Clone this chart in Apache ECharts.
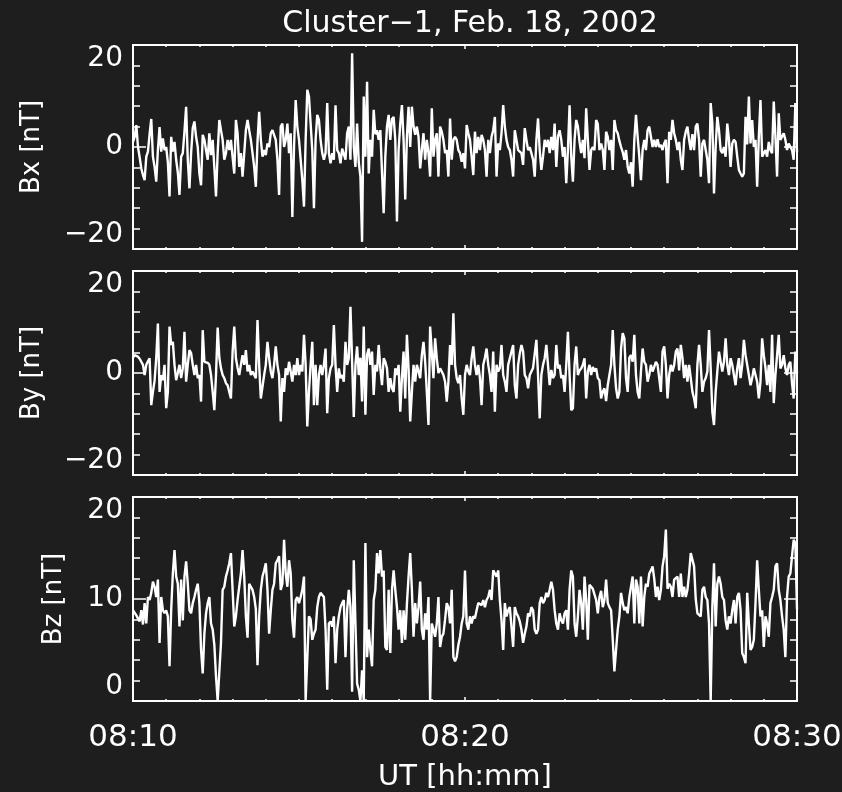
<!DOCTYPE html>
<html>
<head>
<meta charset="utf-8">
<title>Cluster-1, Feb. 18, 2002</title>
<script src="https://cdn.jsdelivr.net/npm/echarts@6/dist/echarts.min.js"></script>
<style>
  html, body { margin: 0; padding: 0; background: #1e1e1e; }
  #chart { width: 842px; height: 792px; }
</style>
</head>
<body>
<div id="chart"></div>
<script>
// Cluster-1 magnetic field, 08:10 - 08:30 UT, one sample every 3 s
const sampleStep = 3; // seconds
const timeLabels = ['08:10', '08:20', '08:30'];
const panelNames = ['Bx [nT]', 'By [nT]', 'Bz [nT]'];
// [min, max, label interval]
const panelRanges = [[-20, 20, 20], [-20, 20, 20], [0, 20, 10]];

const bxValues = [
  1.0,2.0,4.3,0,-2,-4.2,-5.5,-6.5,-1.9,-0.9,
  2.5,5.5,-1.9,-3.9,-6.8,-0.6,3.9,-0.9,1.7,-0.6,
  0,-3,-9.7,2,-0.9,1,-2.5,-5,-9.4,-1.9,
  -1.2,3,7.9,-2.5,-8.1,-1.2,3.7,5,2,0,
  -5.2,-7.5,2.4,1.4,-0.6,-2.5,2.7,-1.6,1.4,-4,
  -9.7,-1.2,5.3,3.3,1.4,-2.5,-1.2,1.4,-0.6,1.4,
  -2,-5.2,5.3,2.7,-3.9,-1.2,-5.8,-6.1,3.3,5.3,
  3.3,1.4,-1.2,-3.9,-7.8,1,6.9,1.4,-1.9,-0.6,
  -1.6,0.7,0,2.7,3.3,3,1.4,-2.5,-9.4,4,
  4.6,0,1.4,4.6,-1.2,2.7,-13.7,0,9.2,4,
  1.4,-2.5,-6.5,-11.7,1.4,11.2,9.9,4.6,-0.6,-12,
  1.4,6.3,5.3,1.4,-1.2,-2.5,-1.2,8.6,-1.2,-3.2,
  -1.2,-2.5,8.2,-0.6,-1.2,-3.2,-0.3,-0.3,-2.5,2.7,
  4,-2.5,
  18.4,0,-3.9,4.6,-3,-5.8,-18.6,9.9,-1.9,12.8,
  -5.2,1.4,-1.9,7.3,2.5,3.3,1.4,3.3,-5,-13,
  -1.9,4,6.3,1.4,5.5,5.9,1.4,-14.6,-0.6,4.6,
  8.2,1.4,-10.3,2,7.9,0,7.9,4,2.4,4,
  2,-4.2,-0.6,2.7,-2.5,1.4,-1.2,-5.8,7.6,-1.9,
  1.4,2.7,-5.8,4,3,1.4,-1.2,-0.6,-5.8,5.6,
  -2.5,1.4,2,1.4,-0.6,-1.2,-2.9,-1.2,-4.2,4.3,
  2.7,1.4,-1.9,-5.5,3,-1.2,2,-0.6,2.4,1.4,
  -0.6,-5.8,1.4,-1.2,2,3.3,5.9,-5.8,0.7,-0.6,
  2.7,8.2,4,1.4,0,-0.6,-2.5,-5.8,3.3,1.4,
  -0.6,-0.5,-1.2,-3.5,3.7,1.4,-0.6,0,-1.2,-2.5,
  -5.8,1.4,5.6,-0.6,-4.5,-1.9,1.4,0,1.4,-1.2,
  2,-0.6,4.6,-3.9,2,3.3,1.4,-1.9,0,-7.1,
  -0.6,8.2,-1.9,
  -6.8,1.4,5.3,4,1,-1.2,1.4,-2.2,7.6,1.4,
  -4.5,-0.6,0,-0.6,5.3,4.5,-0.6,0.7,-0.6,-4.5,
  3,2,-0.6,1.4,-4.5,5.3,3.3,2.7,1.2,0,
  -1,-2.5,-0.6,-3.9,-5.2,-3,-7.8,1.4,6.3,2,
  -1.9,-6.5,-0.5,1.4,-0.6,3.3,4,2,0,1.4,
  0,1.5,0,0.4,-0.6,0.7,1.4,-7.1,3,1.4,
  5.3,2.7,1.4,-0.6,1,-2.5,-4.5,1.4,3,4,
  1.4,-0.6,2.5,-0.6,4,4.6,1.4,-5.8,0.7,1.4,
  -0.6,-2.5,-7.1,8.6,4.6,-9.1,0,5.9,3.3,-0.6,
  -1.2,0,-1.9,4.6,1.5,-3.9,0.7,1.4,1,-1.9,
  -4.5,-5.2,-5.8,-5.2,5.9,0.5,9.9,0.7,5.3,0,
  1.4,-7.8,2,9.2,-1.9,-1.2,-0.6,-1.9,1,-0.6,
  -1.2,8.9,2,-5.8,6.6,1.4,1.4,2.7,1.4,-0.6,
  0.7,0,-0.6,-2.5,8.6,-1
];

const byValues = [
  3,3.5,3.5,3.2,2.8,2.2,1.6,-0.4,1.6,2.3,
  2.9,-6.3,-3.7,-1.5,2.9,9.7,-3.7,-0.4,-1.4,1.6,
  -6.9,-3.7,9.1,5.5,6.1,1.6,-1.4,0,1.6,-1,
  0.9,8.1,-1.7,1.6,4.5,3.9,1.6,-0.4,1.6,-1,
  -0.4,-5.6,8.4,2.2,2.5,2,1.6,-0.4,-3.7,-7.3,
  -0.4,8.9,3,0.9,-0.4,-1,-2,-2.4,-3.7,-5,
  4.2,9.1,2.9,1,-0.4,1.6,3.5,1.6,4.5,0.3,
  1.6,-0.4,0.3,0,-1,10.4,1.6,-5,-5.3,-0.4,
  1.6,6.1,2.9,0.3,-1,1.6,5.2,1.6,-0.4,-9.5,
  -1,-3.7,0.9,-0.4,2.2,0.3,-1.7,1.6,-0.4,2.9,
  -0.4,1.6,0.3,7.5,1.6,-10.5,-3.7,1.6,6.1,-6.3,
  1.6,-6.3,-0.4,1.6,-0.4,1.6,4.8,-7.9,-1,0.9,
  1.6,9.4,1.6,-3.7,0.9,-1,-0.4,-1.7,6.1,1.6,
  2.9,13,
  13,-8.6,1.6,5.2,-0.4,3,-5.6,9.1,-8.2,3.5,
  4.8,1.6,4.2,-4.3,1.6,0.3,5.5,0.9,-2.4,2.9,
  2.2,0.9,-3.7,-1,-3,-3.7,0.9,-0.4,1.6,-7.6,
  -1,4.2,-5,7.5,0.9,-9.5,-3.7,1.6,-1.7,1.6,
  1.6,-1,3.5,6.1,2.2,-3.7,-10.2,9.1,4.2,-1,
  6.8,2.9,0,0.9,0.3,-0.4,-1.7,-5.6,-1.7,5.5,
  1.6,11.7,1.6,-1,-2,-0.4,-5,-8.2,-0.4,1.6,
  0.3,-0.4,2.9,5.2,1.6,-0.4,1.6,-1,-6.3,1.6,
  3,4.8,1.6,-0.4,-3.7,4.2,-7.6,1.6,0.3,1,
  5.5,-0.4,-1.7,-3.7,1.6,2.9,4.2,5.5,-2.4,-5,
  1.6,3.8,5.5,4.2,-0.4,-1,-3,-0.4,0.3,1,
  0.9,6.5,-0.4,-8.9,-0.4,1.6,2.9,5.5,1.6,-2.4,
  0.6,-1,-0.4,5.5,0.9,1.6,-1,-0.4,-3.7,1.6,
  8.1,-0.4,-7.3,
  -6.9,1.6,5.2,-0.4,0.5,0.9,1.6,2.9,-5,0.3,
  1.6,-0.4,1.2,0.3,0.9,-1,-1.4,-5,-3.7,-3,
  -5.5,-2.4,-0.4,1.6,8.4,1.6,-3,-5,-3.7,4.8,
  7.8,6.8,-1,-3.7,3,3.5,2.2,7.5,-0.4,-3.7,
  -5,0.3,4.8,2.2,1.6,-1.7,-0.4,1.6,0.3,1.2,
  2.2,1.6,-1,-3.7,4.2,5.2,1.6,-5,-0.4,1.6,
  0.3,1.6,4.2,4.8,0.5,5.5,2.9,-1,1.6,-1.7,
  1.6,-1,-3.7,-5,-6.9,1.6,5.5,1.6,-3.7,-1.7,
  -1,0.3,8.4,0.9,-7.6,-10.2,-3.7,0.3,4.2,2.2,
  0.3,2.2,6.8,1.6,-0.4,2.9,1.6,-0.4,-2.4,0.9,
  2.9,-1,1.6,6.5,3.5,1.6,-0.4,-2.4,-1,0.9,
  -0.4,-1.7,-5,-1.7,6.8,3.5,1,-2.4,1.6,-3.7,
  7.5,-5.9,-0.4,3.5,7.5,0.9,1.6,3.5,0.9,-0.4,
  1.6,2.2,-2,-5,4.2,0
];

const bzValues = [
  8.9,8.9,8.4,8.3,7.8,8.9,7.5,9.6,7.6,10.2,
  9.9,10.6,11.7,11.2,10.2,11.9,5.7,10.2,8.9,8.6,
  8.9,8.3,3.4,8.9,12.5,14.8,12.2,11.5,7.3,11.9,
  7.9,12.2,13.7,11.5,8.9,8.6,9.6,10.2,10.9,11.5,
  9.6,5,2.7,6.6,8.6,9.6,10.2,7.6,7,5.5,
  2.4,0,0,5.7,10.9,11.2,12.2,12.8,13.5,14.5,
  10.9,7.3,8.3,9.9,11.2,12.5,14.8,12.2,8.3,6.2,
  11.5,11.2,10.9,10.2,9,3.5,8.3,10.9,12.2,12.8,
  13.5,10.9,6.6,8.9,10.9,11.5,13.5,13.8,14.2,10.9,
  11.5,15.8,12.5,11.2,13.8,12.5,7.9,6.2,9.9,10.2,
  9.6,10.2,10.9,12.2,0.1,0,8.3,8,6,6.6,
  7,9.2,10.2,10.6,10.4,10.2,7,1.1,7.6,7.8,
  7.3,8.3,3.7,7,8.3,9.2,9.6,9.9,4.3,8.9,
  10.9,9.2,
  0.9,13.8,7.6,1.7,1.1,0,3,0,15.5,4.3,
  7,5,3.4,9.9,10.9,14.5,12.5,14.8,12.2,12.8,
  5.3,5,10.9,4.7,10.9,12.8,10.9,9.2,7,8.9,
  5.7,8.9,6,9.5,12.2,14.5,10.9,6.3,9.6,7.6,
  9.2,11.7,7,6,8.6,7,10.2,0,7.6,7,
  6.3,7.6,10.2,5.3,6.3,6.6,8,9.6,9.2,7.6,
  10.9,4.3,3.9,4.3,5.5,6.3,7.6,8.3,12.8,7.6,
  7,8.3,7.6,8.3,8.1,8.9,9.6,9.6,9.4,9.9,
  9.2,9.9,10.2,10.9,9.9,12.8,12.5,12.2,12.8,9.9,
  7.9,5,9.6,8.3,8.9,9.2,7.3,5.3,9.2,8.6,
  8.3,7.8,7,5.7,6.6,7.3,8.6,8.3,9.2,8.9,
  7,6.6,7,9.6,10.2,9.6,9.9,10.6,10.2,10.9,
  11.7,10.9,8.9,7.6,7,8.6,7.9,7.6,8.6,8.9,
  7,10.9,12.8,
  12.2,7.6,6.3,8.3,10.9,9.6,7,12.2,9.9,6,
  11.4,11.4,11,10.9,9.9,8.6,10.2,10.8,9.2,9.9,
  11.9,9.6,9.2,8.9,6,2.9,5,7,8.3,10.6,
  9.6,8.9,9.2,8.6,10.2,10.2,12.2,7.6,11.9,11.2,
  7.6,12.2,7.3,10.2,11.5,11.2,12.5,12.8,13.2,12,
  10.2,11.2,9.9,10.9,13.2,14.2,16.8,11,11.5,11.2,
  10.2,11.9,12,12.2,10.2,12.5,10.2,11.2,10.2,10.9,
  12.5,14.5,14.6,13.2,10,8.6,8.6,8.3,10.9,11.2,
  10.2,9.9,7.6,0,9.2,13.5,7.3,11.5,12.2,11.5,
  10.2,9.9,7.9,7,8.3,7.6,8.9,9.9,7.6,10.2,
  10.6,8.9,4.7,4.3,3.7,10.6,7.6,5,5.3,6,
  9.6,13.8,10.9,8.3,8.9,5.3,8.3,7.6,6.3,9.6,
  10.2,10.9,13.2,13.5,10.9,9.9,8.3,7,4.3,10.2,
  12.2,12.5,14.2,15.8,15.5,9
];

const white = '#ffffff';
const fontFamily = 'DejaVu Sans';
const gridTops = [45, 271, 497];
const nameGaps = [88, 88, 66];
const totalSeconds = (bxValues.length - 1) * sampleStep;

const grids = [];
const xAxes = [];
const yAxes = [];
const series = [];

[bxValues, byValues, bzValues].forEach((values, p) => {
  grids.push({
    left: 133, width: 664, top: gridTops[p], height: 204,
    containLabel: false, outerBoundsMode: 'none',
    show: true, borderColor: white, borderWidth: 2, backgroundColor: 'transparent'
  });

  ['bottom', 'top'].forEach(pos => {
    const withLabels = pos === 'bottom' && p === 2;
    xAxes.push({
      gridIndex: p,
      type: 'value',
      position: pos,
      min: 0,
      max: totalSeconds,
      interval: 600,
      axisLine: { show: false, onZero: false },
      axisTick: { show: true, inside: true, length: 4, lineStyle: { color: white, width: 1.5 } },
      minorTick: { show: true, splitNumber: 10, length: 2, lineStyle: { color: white, width: 1.5 } },
      splitLine: { show: false },
      axisLabel: {
        show: withLabels, color: white, fontSize: 31, fontFamily: fontFamily, margin: 21,
        formatter: v => timeLabels[Math.round(v / 600)]
      },
      name: withLabels ? 'UT [hh:mm]' : '',
      nameLocation: 'middle',
      nameGap: 62,
      nameTextStyle: { color: white, fontSize: 29, fontFamily: fontFamily }
    });
  });

  const [ymin, ymax, yint] = panelRanges[p];
  ['left', 'right'].forEach(pos => {
    const withLabels = pos === 'left';
    yAxes.push({
      gridIndex: p,
      type: 'value',
      position: pos,
      min: ymin,
      max: ymax,
      interval: yint,
      axisLine: { show: false, onZero: false },
      axisTick: { show: true, inside: true, length: 13, lineStyle: { color: white, width: 1.5 } },
      minorTick: { show: true, splitNumber: 5, length: 7, lineStyle: { color: white, width: 1.5 } },
      splitLine: { show: false },
      axisLabel: {
        show: withLabels, color: white, fontSize: 28, fontFamily: fontFamily, margin: 10,
        verticalAlignMaxLabel: 'top',
        verticalAlignMinLabel: 'bottom',
        formatter: v => String(v).replace('-', '\u2212')
      },
      name: withLabels ? panelNames[p] : '',
      nameLocation: 'middle',
      nameGap: nameGaps[p],
      nameTextStyle: { color: white, fontSize: 26, fontFamily: fontFamily }
    });
  });

  series.push({
    type: 'line',
    xAxisIndex: p * 2,
    yAxisIndex: p * 2,
    data: values.map((v, i) => [i * sampleStep, v]),
    showSymbol: false,
    symbol: 'none',
    lineStyle: { color: white, width: 2.4 },
    animation: false
  });
});

const chart = echarts.init(document.getElementById('chart'));
chart.setOption({
  backgroundColor: '#1e1e1e',
  animation: false,
  title: {
    text: 'Cluster\u22121, Feb. 18, 2002',
    left: 465,
    textAlign: 'center',
    top: 4,
    textStyle: { color: white, fontSize: 30, fontWeight: 'normal', fontFamily: fontFamily }
  },
  grid: grids,
  xAxis: xAxes,
  yAxis: yAxes,
  series: series
});
</script>
</body>
</html>
